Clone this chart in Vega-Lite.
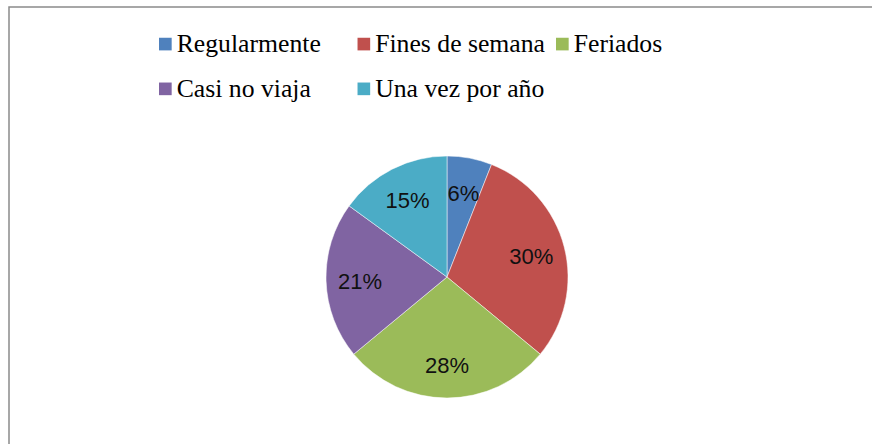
{
  "$schema": "https://vega.github.io/schema/vega-lite/v6.json",
  "autosize": {"type": "none"},
  "padding": {"left": 9, "top": 7, "right": -13, "bottom": -103},
  "width": 876,
  "height": 540,
  "background": "white",
  "view": {"stroke": "#8a8a8a", "strokeWidth": 1.5, "fill": "white"},
  "data": {
    "values": [
      {"cat": "Regularmente", "v": 0.06, "i": 1},
      {"cat": "Fines de semana", "v": 0.30, "i": 2},
      {"cat": "Feriados", "v": 0.28, "i": 3},
      {"cat": "Casi no viaja", "v": 0.21, "i": 4},
      {"cat": "Una vez por año", "v": 0.15, "i": 5}
    ]
  },
  "encoding": {
    "theta": {"field": "v", "type": "quantitative", "stack": true},
    "order": {"field": "i", "type": "quantitative"}
  },
  "layer": [
    {
      "mark": {"type": "arc", "outerRadius": 121, "stroke": "white", "strokeWidth": 0.5},
      "encoding": {
        "color": {
          "field": "cat",
          "type": "nominal",
          "sort": null,
          "scale": {
            "domain": ["Regularmente", "Fines de semana", "Feriados", "Casi no viaja", "Una vez por año"],
            "range": ["#4F81BD", "#C0504D", "#9BBB59", "#8064A2", "#4BACC6"]
          },
          "legend": {
            "title": null,
            "orient": "none",
            "legendX": 143.5,
            "legendY": 24,
            "direction": "horizontal",
            "columns": 3,
            "gridAlign": "all",
            "padding": 0,
            "symbolType": "square",
            "symbolSize": 160,
            "symbolStrokeWidth": 0,
            "symbolOpacity": 1,
            "labelFont": "Liberation Serif",
            "labelFontSize": 25.7,
            "labelColor": "#000000",
            "labelOffset": -1.5,
            "labelLimit": 400,
            "columnPadding": 4.5,
            "rowPadding": 18
          }
        }
      }
    },
    {
      "mark": {"type": "text", "radius": 87, "dy": 2, "font": "Liberation Sans", "fontSize": 22, "color": "#111111", "align": "center", "baseline": "middle"},
      "encoding": {
        "text": {"field": "v", "type": "quantitative", "format": ".0%"}
      }
    }
  ]
}
